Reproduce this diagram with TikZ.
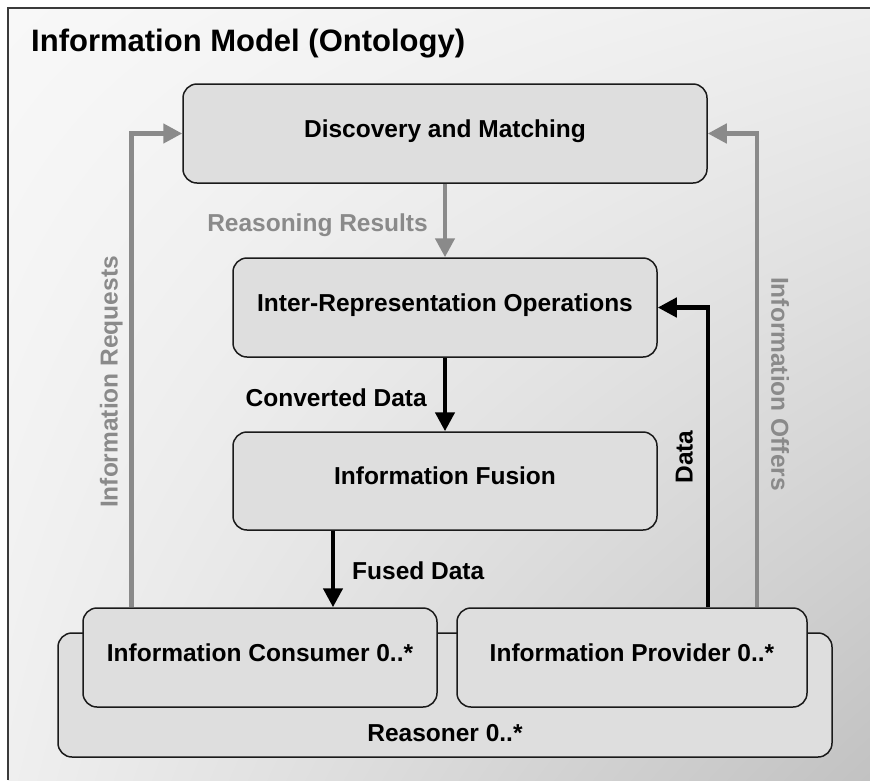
\documentclass[tikz,border=0pt]{standalone}
\usepackage{fontspec}
\setmainfont{Liberation Sans}
\usetikzlibrary{arrows.meta,calc,shadings}

\definecolor{boxfill}{HTML}{DEDEDE}
\definecolor{boxline}{HTML}{1A1A1A}
\definecolor{flowgray}{HTML}{8A8A8A}
\definecolor{framegray}{HTML}{3A3A3A}
\definecolor{bgUL}{HTML}{F8F8F8}
\definecolor{bgUR}{HTML}{EEEEEE}
\definecolor{bgLL}{HTML}{EFEFEF}
\definecolor{bgLR}{HTML}{C2C2C2}

\tikzset{
  box/.style={draw=boxline, line width=1.5pt, fill=boxfill, rounded corners=14pt,
    inner sep=0pt, text height=0.72em, text depth=0pt,
    font=\fontsize{24.5}{28}\selectfont\bfseries},
  lbl/.style={inner sep=0pt, font=\fontsize{24.5}{28}\selectfont\bfseries},
  vlbl/.style={lbl, text height=0.72em, text depth=0pt},
  flowtip/.style={-{Triangle[length=19pt,width=19pt]}},
  grayflow/.style={flowtip, draw=flowgray, line width=4.5pt},
  blackflow/.style={flowtip, draw=black, line width=4.5pt},
}

\begin{document}
\begin{tikzpicture}[x=1pt, y=-1pt]
  \useasboundingbox (0,0) rectangle (870,780);

  % panel background and its frame
  \shade[upper left=bgUL, upper right=bgUR, lower left=bgLL, lower right=bgLR]
    (8,8) rectangle (870,780);
  \draw[framegray, line width=1.5pt] (8,780) -- (8,8) -- (870,8);

  \node[lbl, anchor=base west, font=\fontsize{31}{36}\selectfont\bfseries]
    (title) at (31,51) {Information Model (Ontology)};

  % boxes
  \node[box, minimum width=524pt, minimum height=99pt] (disc) at (445,133.5)
    {Discovery and Matching};
  \node[box, minimum width=424pt, minimum height=99pt] (inter) at (445,307.5)
    {Inter-Representation Operations};
  \node[box, minimum width=424pt, minimum height=98pt] (fusion) at (445,481)
    {Information Fusion};
  \node[box, minimum width=774pt, minimum height=124pt] (reasoner) at (445,695) {};
  \node[lbl, anchor=base] (reasonerlbl) at (445,741) {Reasoner 0..*};
  \node[box, minimum width=354pt, minimum height=99pt] (consumer) at (260,657.5)
    {Information Consumer 0..*};
  \node[box, minimum width=350pt, minimum height=99pt] (provider) at (632,657.5)
    {Information Provider 0..*};

  % connector end points
  \coordinate (reqFoot) at ([xshift=49pt]consumer.north west);
  \coordinate (offFoot) at ([xshift=-51pt]provider.north east);
  \coordinate (dataFoot) at ([xshift=-100pt]provider.north east);
  \coordinate (fusedTop) at ([xshift=-112pt]fusion.south);

  % connectors
  \draw[grayflow] (reqFoot) |- (disc.west);
  \draw[grayflow] (offFoot) |- (disc.east);
  \draw[grayflow] (disc.south) -- (inter.north);
  \draw[blackflow] (inter.south) -- (fusion.north);
  \draw[blackflow] (fusedTop) -- (fusedTop |- consumer.north);
  \draw[blackflow] (dataFoot) |- (inter.east);

  % connector labels
  \node[lbl, text=flowgray, anchor=base east] (rrlbl) at (428,231) {Reasoning Results};
  \node[lbl, anchor=base east] (cdlbl) at (427,406) {Converted Data};
  \node[lbl, anchor=base west] (fdlbl) at (352,579) {Fused Data};
  \node[vlbl, text=flowgray, rotate=90] (reqlbl) at (114,382) {Information Requests};
  \node[vlbl, text=flowgray, rotate=-90] (offlbl) at (775,384) {Information Offers};
  \node[vlbl, rotate=90] (datalbl) at (689,457) {Data};
\end{tikzpicture}
\end{document}
